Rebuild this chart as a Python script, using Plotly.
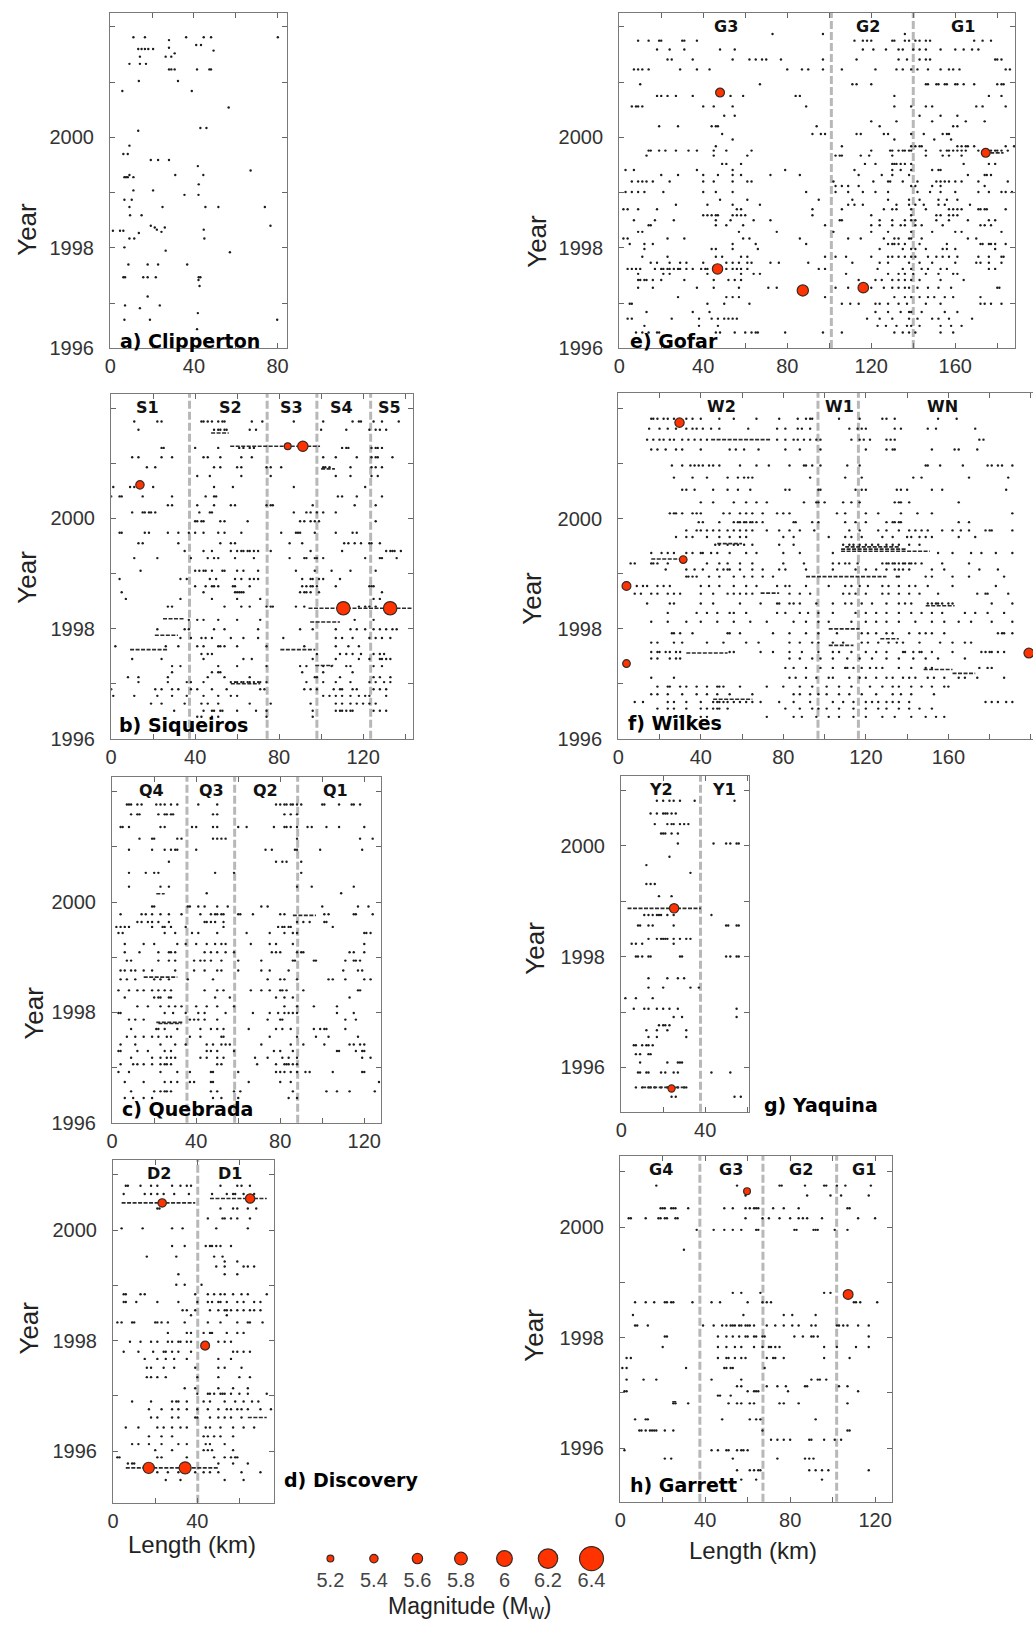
import math
import plotly.graph_objects as go

W, H = 1035, 1630

# ======================= DATA (km along segment, year) =======================
# rows: (year, [km, km, ...]) ; swarms: (year, km_start, km_end) ; events: (km, year, Mw)

CLIP_ROWS = [
    (2001.81, [11.1, 16.6, 36.3, 44.7, 48.2, 80.1]), (2001.76, [28.1]), (2001.67, [41.1, 43.4]),
    (2001.62, [28.1]), (2001.60, [13.4, 15.0, 16.6, 18.2, 20.5]), (2001.57, [49.4]), (2001.52, [30.8]),
    (2001.46, [14.2, 26.5, 29.2]), (2001.33, [9.2, 14.2, 17.1]), (2001.23, [28.1, 29.2, 30.8, 41.5, 47.4, 48.2]),
    (2001.02, [13.7, 32.4]), (2000.84, [5.8, 39.0]), (2000.54, [56.6]), (2000.17, [43.1, 46.0]),
    (2000.12, [13.4]), (1999.85, [9.2]), (1999.70, [6.3, 8.4]), (1999.59, [19.4, 22.9, 28.1]),
    (1999.48, [41.9]), (1999.40, [67.1]), (1999.32, [9.2, 31.1, 44.5]), (1999.28, [6.8, 7.6, 8.4, 11.1]),
    (1999.15, [42.3]), (1999.04, [11.1, 20.5]), (1998.96, [35.5, 42.2]), (1998.87, [6.8, 10.3]),
    (1998.74, [9.2, 25.0, 45.5, 51.7, 73.9]), (1998.59, [9.5, 15.0]), (1998.40, [19.4, 76.6]),
    (1998.37, [21.3, 26.1]), (1998.33, [22.3, 44.7]), (1998.31, [1.3, 4.7, 6.3]), (1998.29, [24.5]),
    (1998.27, [13.7]), (1998.17, [9.2, 11.5, 45.0]), (1998.01, [6.8]), (1997.95, [26.5]), (1997.92, [57.2]),
    (1997.70, [8.7, 17.9, 22.9, 36.8]), (1997.47, [6.3, 7.1, 15.8, 17.9, 21.8, 42.3, 43.1]),
    (1997.42, [42.2]), (1997.31, [42.7]), (1997.12, [17.9]), (1996.96, [7.1, 23.7]), (1996.91, [14.2]),
    (1996.82, [41.9]), (1996.70, [6.8, 19.0, 79.8]), (1996.53, [41.5]),
]
CLIP_SWARMS = []
CLIP_EVENTS = []
CLIP_BOUNDS = []
CLIP_SEGS = []

SIQ_ROWS = [
    (2001.76, [11, 22, 24, 43, 44, 46, 48, 51, 53, 54, 67, 72, 87, 101, 115, 118, 119, 125, 129, 137]),
    (2001.61, [13, 49, 51, 52, 54, 55, 66, 69, 100, 112, 123, 126, 128, 131]),
    (2001.28, [24, 25, 40, 51, 61, 63, 66, 68, 110, 112, 113, 124, 126, 127, 129]),
    (2001.11, [10, 13, 24, 29, 44, 46, 52, 62, 67, 101, 107, 117, 124, 126, 127, 134]),
    (2000.93, [17, 21, 49, 52, 60, 62, 74, 76, 81, 101, 102, 104, 114, 124, 126, 129]),
    (2000.77, [41, 47, 62, 76, 107, 114, 124, 127]),
    (2000.57, [1, 9, 11, 20, 49, 58, 87, 121]),
    (2000.40, [0, 4, 5, 15, 29, 45, 49, 50, 108, 110, 117, 129]),
    (2000.24, [27, 29, 41, 49, 57, 59, 74, 76, 77, 96, 116, 126]),
    (2000.11, [10, 15, 16, 18, 19, 21, 42, 47, 48, 87, 93, 95, 98, 101, 107]),
    (1999.95, [40, 41, 43, 44, 52, 54, 65, 90, 92, 95, 97, 99, 126]),
    (1999.74, [4, 5, 16, 18, 27, 32, 37, 40, 44, 51, 54, 62, 81, 88, 89, 90, 97, 107, 115, 117]),
    (1999.55, [13, 15, 32, 52, 57, 59, 85, 91, 111, 113, 116, 119, 123, 124, 128]),
    (1999.41, [35, 44, 48, 57, 60, 62, 63, 65, 66, 68, 70, 76, 95, 110, 131, 133, 134, 135, 138]),
    (1999.28, [11, 22, 38, 46, 49, 51, 59, 68, 85, 92, 93, 97, 98, 101, 121, 128, 129, 136]),
    (1999.05, [14, 40, 42, 44, 45, 48, 53, 54, 60, 63, 70, 88, 97, 105, 114, 126]),
    (1998.90, [4, 33, 36, 47, 50, 59, 62, 66, 68, 70, 91, 95, 96, 99, 101, 109]),
    (1998.77, [40, 45, 48, 49, 51, 58, 59, 66, 91, 93, 95, 96, 98, 107, 123, 124, 125]),
    (1998.66, [5, 44, 59, 60, 61, 62, 63, 90, 92, 93, 95, 99, 129]),
    (1998.54, [7, 33, 48, 60, 71, 125, 128]),
    (1998.40, [27, 29, 54, 62, 66, 74, 76, 77, 88, 92, 113, 118, 121, 123, 126]),
    (1998.16, [37, 41, 44, 51, 60, 71, 116, 125]),
    (1997.99, [22, 35, 37, 49, 54, 70, 90, 96, 107, 114, 117, 121, 125, 128, 131, 134, 136]),
    (1997.83, [33, 38, 43, 45, 48, 57, 63, 70, 82, 107, 110, 115, 123, 126, 129, 133]),
    (1997.68, [2, 26, 32, 41, 44, 51, 52, 54, 60, 74, 92, 107, 113, 118]),
    (1997.54, [43, 46, 48, 98, 109, 112, 115, 119, 125, 128, 130]),
    (1997.45, [10, 24, 44, 63, 67, 96, 107, 118, 123, 128, 129, 131, 133]),
    (1997.32, [29, 33, 51, 60, 74, 90, 93, 101, 105, 112, 114, 125, 129]),
    (1997.21, [29, 48, 51, 52, 91, 101, 115]),
    (1997.12, [8, 13, 27, 46, 54, 66, 97, 98, 109, 125, 128, 133]),
    (1997.03, [13, 27, 36, 38, 44, 57, 59, 60, 62, 63, 65, 66, 68, 70, 71, 74, 93, 101, 107, 114, 123, 126, 130, 133]),
    (1996.90, [0, 21, 24, 29, 32, 38, 41, 48, 55, 71, 73, 92, 95, 98, 106, 109, 110, 115, 117, 125, 128, 131]),
    (1996.78, [1, 11, 22, 29, 36, 44, 51, 57, 60, 101, 104, 107, 110, 114, 118, 121, 123, 131]),
    (1996.64, [19, 24, 35, 43, 46, 51, 66, 76, 95, 107, 110, 114, 117, 120, 123, 126]),
    (1996.51, [30, 44, 48, 49, 52, 53, 60, 69, 74, 96, 107, 109, 110, 112, 114, 115, 125, 128, 131]),
    (1996.40, [41, 43, 48, 51, 74, 96]),
]
SIQ_SWARMS = [
    (2001.31, 56.7, 99.5), (1998.37, 94.0, 143.6), (1998.18, 24.7, 35.0), (1997.88, 20.8, 31.8),
    (1997.62, 9.0, 27.0), (1997.62, 80.6, 97.2), (1997.33, 97.2, 105.8), (1998.12, 94.8, 109.0),
    (1997.00, 57.0, 71.0), (2001.55, 47.6, 56.0), (2000.90, 100.0, 106.6),
]
SIQ_EVENTS = [(13.7, 2000.61, 5.4), (84.1, 2001.31, 5.2), (91.3, 2001.31, 5.6),
              (110.6, 1998.37, 5.85), (132.9, 1998.37, 5.85)]
SIQ_BOUNDS = [37.3, 74.3, 98.0, 123.6]
SIQ_SEGS = [("S1", 17.3), ("S2", 56.7), ("S3", 85.7), ("S4", 109.8), ("S5", 132.6)]

QUE_ROWS = [
    (2001.77, [7, 8, 9, 12, 14, 21, 23, 25, 28, 31, 41, 50, 78, 80, 82, 83, 85, 86, 88, 90, 100, 101, 108, 114, 115, 118]),
    (2001.59, [9, 12, 13, 22, 25, 26, 28, 29, 48, 50, 82, 85, 88]),
    (2001.36, [4, 5, 8, 23, 25, 38, 40, 48, 50, 60, 64, 77, 82, 83, 85, 88, 93, 95, 102, 108, 120]),
    (2001.15, [13, 19, 20, 31, 33, 48, 50, 52, 54, 88, 118, 124]),
    (2000.95, [8, 19, 25, 28, 30, 31, 40, 73, 76, 87, 88, 99, 119]),
    (2000.73, [27, 78, 81, 83, 90]),
    (2000.53, [8, 16, 20, 22, 49, 58, 90]),
    (2000.28, [8, 23, 27, 88, 95, 115]),
    (2000.16, [45, 109]),
    (1999.92, [19, 20, 36, 37, 41, 44, 50, 55, 71, 74, 100, 117, 122]),
    (1999.78, [4, 14, 16, 19, 23, 27, 33, 42, 47, 49, 50, 52, 53, 60, 61, 67, 80, 82, 101, 103, 115, 116, 124]),
    (1999.64, [12, 14, 17, 19, 22, 27, 44, 45, 47, 49, 53, 88, 91, 94, 101, 102]),
    (1999.55, [2, 4, 6, 8, 19, 24, 25, 28, 35, 53, 79, 81, 82, 84, 85, 105]),
    (1999.44, [3, 5, 25, 30, 38, 41, 50, 64, 75, 82, 86, 88, 120, 121, 123]),
    (1999.24, [6, 15, 20, 31, 35, 40, 45, 49, 52, 54, 66, 75, 78, 86, 120]),
    (1999.09, [6, 13, 22, 27, 28, 30, 44, 47, 50, 54, 58, 76, 78, 80, 88, 90, 91, 113, 115, 120]),
    (1998.94, [7, 9, 22, 27, 30, 39, 42, 44, 47, 52, 60, 71, 86, 87, 96, 97, 111, 115, 116, 118]),
    (1998.76, [4, 6, 9, 11, 15, 19, 30, 39, 44, 50, 52, 60, 71, 75, 84, 110, 117, 119]),
    (1998.60, [4, 7, 11, 20, 23, 27, 36, 48, 74, 80, 82, 88, 103, 105, 111, 120, 123]),
    (1998.40, [3, 8, 12, 15, 19, 22, 25, 28, 44, 50, 53, 66, 71, 75, 80, 81, 83, 91, 117, 118]),
    (1998.27, [6, 20, 22, 23, 27, 28, 49, 56, 78, 82, 86, 113]),
    (1998.11, [12, 17, 23, 27, 30, 33, 40, 45, 50, 58, 82, 88, 96, 107]),
    (1997.99, [3, 4, 25, 29, 35, 41, 44, 54, 67, 75, 79, 82, 84, 86, 88, 107, 115]),
    (1997.87, [8, 11, 15, 37, 39, 41, 44, 50, 74, 80, 81, 111, 116]),
    (1997.70, [9, 21, 22, 25, 31, 42, 47, 50, 53, 65, 78, 81, 85, 96, 99, 101, 102, 111]),
    (1997.56, [7, 11, 15, 19, 22, 26, 28, 37, 42, 52, 53, 75, 88, 97, 103, 117]),
    (1997.42, [4, 11, 23, 30, 35, 45, 48, 52, 54, 56, 71, 85, 91, 101, 113, 115, 118, 120]),
    (1997.30, [3, 4, 12, 17, 25, 28, 45, 47, 50, 58, 77, 80, 86, 107, 108, 116, 119, 120]),
    (1997.18, [9, 19, 23, 26, 28, 30, 42, 45, 50, 53, 68, 74, 81, 84, 88, 119, 123]),
    (1997.06, [4, 10, 12, 15, 19, 23, 25, 26, 28, 50, 52, 69, 78, 82, 83, 84, 86, 88]),
    (1996.92, [3, 8, 23, 31, 37, 47, 48, 60, 78, 80, 82, 85, 88, 92, 94, 105, 119, 120]),
    (1996.74, [6, 15, 25, 28, 31, 37, 39, 47, 48, 65, 80, 85, 127]),
    (1996.57, [9, 20, 23, 25, 26, 28, 47, 50, 58, 61, 86, 102, 107, 113, 125]),
    (1996.45, [6, 10, 15, 19, 48, 52, 60, 84, 88]),
]
QUE_SWARMS = [(1998.64, 15, 31), (1997.82, 21, 34), (1997.80, 22, 33), (2000.15, 21, 25), (1999.76, 86, 97)]
QUE_EVENTS = []
QUE_BOUNDS = [35.6, 58.3, 88.3]
QUE_SEGS = [("Q4", 18.6), ("Q3", 47.3), ("Q2", 73.0), ("Q1", 106.4)]

DIS_ROWS = [
    (2000.80, [6, 7, 13, 18, 21, 28, 32, 35, 37, 51, 59, 61, 65]),
    (2000.65, [5, 15, 18, 21, 24, 29, 36, 47, 54, 57, 58, 62, 67]),
    (2000.39, [21, 22, 51, 57, 59, 64, 68]),
    (2000.21, [45, 52, 53, 56, 59, 65]),
    (2000.03, [4, 14, 28, 33, 49, 64]),
    (1999.71, [28, 34, 44, 46, 47, 49, 51, 56]),
    (1999.52, [16, 30, 48, 52]),
    (1999.43, [53, 59]),
    (1999.34, [49, 53, 62, 64, 67]),
    (1999.20, [31, 53, 59]),
    (1999.01, [30, 34, 42]),
    (1998.84, [5, 6, 13, 15, 39, 45, 48, 51, 53, 57, 61, 64, 73]),
    (1998.70, [5, 6, 11, 21, 31, 40, 45, 47, 50, 51, 54, 59, 62, 67, 70]),
    (1998.55, [33, 35, 39, 46, 50, 53, 54, 56, 59, 62, 65, 67, 70]),
    (1998.46, [37, 54]),
    (1998.33, [2, 4, 9, 10, 20, 21, 23, 26, 34, 45, 51, 59, 64, 65, 71]),
    (1998.14, [26, 35, 37, 43, 46, 47, 54, 59, 62]),
    (1997.98, [8, 13, 18, 21, 26, 28, 31, 32, 35, 37, 50, 53, 56]),
    (1997.80, [5, 12, 19, 24, 25, 28, 31, 37, 57, 59, 62, 65]),
    (1997.67, [15, 21, 25, 29, 35, 50, 56]),
    (1997.51, [16, 18, 24, 29, 39, 50, 53, 61]),
    (1997.34, [16, 18, 21, 25, 40, 50, 60, 65]),
    (1997.14, [34, 39, 50, 57, 64]),
    (1997.04, [40, 45, 46, 48, 51, 52, 53, 56, 60, 64, 73]),
    (1996.90, [9, 18, 28, 30, 31, 35, 43, 46, 53, 58, 62, 66, 69]),
    (1996.76, [17, 23, 28, 31, 35, 40, 45, 50, 54, 56, 59, 61, 64, 70, 75]),
    (1996.61, [18, 21, 28, 31, 39, 40, 46, 50, 53, 56, 61]),
    (1996.43, [6, 12, 21, 24, 28, 32, 35, 44, 46, 51, 57, 62, 67]),
    (1996.27, [17, 23, 28, 43, 45, 48, 51, 57]),
    (1996.13, [9, 12, 17, 23, 31, 35, 44, 46, 53]),
    (1996.02, [20, 28, 43, 45, 47, 57]),
    (1995.89, [2, 3, 21, 23, 35, 48, 53, 56, 58, 59]),
    (1995.78, [7, 9, 10, 50, 57, 64]),
    (1995.62, [21, 26, 31, 39, 43, 46, 50, 61, 70]),
    (1995.48, [25, 32, 53, 62]),
]
DIS_SWARMS = [(2000.49, 4, 39), (2000.57, 46, 73), (1995.70, 6, 50), (1996.61, 64, 73)]
DIS_EVENTS = [(23.3, 2000.49, 5.4), (65.1, 2000.57, 5.5), (43.7, 1997.91, 5.45),
              (16.9, 1995.70, 5.68), (34.2, 1995.70, 5.75)]
DIS_BOUNDS = [40.2]
DIS_SEGS = [("D2", 22.0), ("D1", 55.6)]

GOF_ROWS = [
    (2001.87, [73, 97, 136]),
    (2001.75, [9, 14, 19, 20, 30, 31, 37, 112, 116, 118, 120, 130, 131, 136, 138, 141, 143, 146, 148, 169, 173, 177]),
    (2001.59, [18, 24, 31, 48, 55, 116, 121, 127, 133, 135, 140, 143, 146, 153, 160, 164, 168, 171]),
    (2001.41, [23, 25, 35, 54, 62, 65, 68, 70, 77, 97, 113, 133, 137, 143, 146, 148, 179, 180, 182]),
    (2001.23, [7, 9, 11, 14, 29, 37, 43, 80, 87, 90, 97, 106, 122, 132, 135, 139, 142, 147, 153, 157, 159, 162, 184, 186]),
    (2000.96, [10, 67, 111, 113, 120, 146, 147, 151, 152, 155, 156, 160, 161, 164, 169, 180, 182, 183]),
    (2000.75, [18, 20, 23, 27, 35, 53, 59, 84, 86, 131, 176, 182]),
    (2000.56, [6, 8, 9, 11, 40, 45, 54, 89, 131, 139, 146, 149, 170, 173, 184]),
    (2000.39, [50, 55, 143, 153, 161]),
    (2000.29, [120, 132, 149, 165, 174]),
    (2000.20, [19, 28, 44, 46, 47, 94, 124, 159, 161]),
    (2000.06, [49, 92, 96, 98, 113, 115, 126, 128, 139, 145, 154, 156, 157]),
    (1999.96, [54, 131, 150, 158]),
    (1999.84, [46, 106, 139, 141, 143, 144, 161, 163, 165, 166, 169, 184, 188]),
    (1999.76, [14, 15, 19, 22, 27, 33, 37, 45, 51, 63, 120, 129, 130, 133, 135, 136, 138, 139, 146, 153, 156,
               157, 159, 161, 163, 165, 171, 177, 179, 180, 182, 185]),
    (1999.67, [13, 45, 61, 103, 105, 106, 115, 119, 130, 146, 154, 157, 163]),
    (1999.52, [49, 51, 58, 117, 122, 130, 131, 132, 134, 136, 139, 164, 176, 179]),
    (1999.41, [3, 7, 37, 54, 79, 112, 130, 134, 139, 149, 152, 153]),
    (1999.32, [20, 28, 40, 47, 54, 58, 72, 86, 114, 125, 130, 138, 166, 174, 175, 177]),
    (1999.20, [6, 9, 11, 13, 16, 24, 40, 45, 54, 61, 63, 102, 121, 128, 129, 135, 142, 151, 153, 155, 157, 160,
               163, 171, 185]),
    (1999.12, [103, 106, 109, 114, 139, 141, 149, 153, 174]),
    (1999.01, [3, 6, 9, 12, 21, 40, 46, 54, 89, 103, 109, 116, 122, 128, 142, 148, 153, 160, 171, 176, 182, 184, 187]),
    (1998.87, [48, 61, 95, 111, 128, 138, 143, 152, 156, 161]),
    (1998.78, [27, 42, 54, 67, 109, 112, 116, 132, 138, 141, 145, 152, 155, 167]),
    (1998.70, [2, 4, 9, 18, 56, 58, 92, 106, 126, 130, 132, 139, 146, 157, 159, 161, 163, 171, 172, 174, 175, 184]),
    (1998.59, [40, 42, 44, 46, 47, 54, 56, 58, 60, 92, 120, 139, 151, 153, 157, 159, 161]),
    (1998.50, [7, 17, 26, 46, 53, 64, 72, 105, 106, 124, 130, 136, 139, 141, 151, 157, 166, 176, 179]),
    (1998.41, [14, 15, 46, 51, 59, 98, 120, 124, 130, 134, 136, 141, 144, 154, 172, 174, 177]),
    (1998.29, [9, 11, 57, 75, 102, 120, 128, 139, 149, 160, 163, 182]),
    (1998.17, [2, 4, 23, 31, 59, 62, 86, 109, 115, 126, 131, 133, 138, 139, 144, 166, 170]),
    (1998.07, [5, 12, 16, 54, 65, 89, 128, 130, 131, 133, 136, 143, 156, 172, 173, 176, 177, 179, 184]),
    (1997.98, [12, 44, 46, 54, 66, 124, 135, 139, 141, 146, 154, 156, 160, 179]),
    (1997.84, [11, 23, 46, 49, 58, 61, 98, 103, 108, 120, 128, 130, 133, 136, 139, 141, 147, 151, 154, 157, 161,
               171, 176, 182, 183]),
    (1997.73, [15, 18, 24, 29, 32, 40, 51, 54, 57, 61, 63, 72, 76, 90, 111, 124, 128, 138, 143, 149, 160, 170,
               172, 176, 182]),
    (1997.62, [4, 6, 8, 10, 17, 20, 21, 23, 24, 26, 28, 29, 32, 35, 39, 41, 42, 51, 54, 56, 58, 61, 95, 98, 123,
               135, 139, 144, 147, 153, 156, 176, 179]),
    (1997.53, [9, 21, 24, 42, 58, 64, 67, 108, 128, 133, 136, 140, 146, 152, 159, 161]),
    (1997.42, [9, 10, 12, 13, 16, 20, 31, 45, 52, 55, 58, 114, 122, 125, 130, 133, 136, 139, 143, 153, 164]),
    (1997.28, [9, 16, 37, 45, 57, 71, 75, 103, 109, 120, 126, 130, 133, 136, 138, 142, 147, 152, 158, 180, 181]),
    (1997.11, [28, 51, 54, 57, 98, 131, 136, 139, 143, 147, 150, 155, 159, 172]),
    (1996.99, [5, 6, 42, 50, 62, 106, 110, 114, 122, 124, 128, 133, 137, 146, 153, 172, 174, 177, 182]),
    (1996.84, [13, 35, 43, 122, 128, 134, 138, 139, 144, 155, 161]),
    (1996.72, [4, 6, 25, 38, 44, 47, 50, 52, 54, 56, 118, 124, 130, 138, 142, 149, 152, 157, 168]),
    (1996.59, [12, 38, 47, 123, 127, 132, 137, 139, 143, 153, 158, 163]),
    (1996.47, [8, 11, 14, 18, 19, 46, 48, 55, 60, 63, 65, 66, 79, 97, 106, 131, 135, 138, 141, 153, 159]),
]
GOF_SWARMS = [(1999.72, 174, 183)]
GOF_EVENTS = [(48.0, 2000.81, 5.45), (46.8, 1997.62, 5.6), (87.4, 1997.23, 5.68),
              (116.2, 1997.28, 5.62), (174.5, 1999.72, 5.45)]
GOF_BOUNDS = [101.0, 140.0]
GOF_SEGS = [("G3", 51.0), ("G2", 118.6), ("G1", 163.5)]

WIL_ROWS = [
    (2001.82, [16, 17, 19, 22, 24, 27, 33, 36, 40, 49, 56, 67, 78, 87, 91, 93, 94, 107, 117, 128, 130, 134, 155, 164]),
    (2001.64, [15, 20, 24, 28, 33, 36, 38, 41, 45, 49, 63, 77, 81, 87, 89, 93, 112, 116, 118, 120, 134, 137, 150, 154, 173]),
    (2001.44, [14, 17, 20, 22, 25, 27, 31, 34, 37, 40, 43, 77, 81, 85, 87, 90, 93, 96, 98, 113, 117, 119, 122, 130,
               132, 134, 175, 177]),
    (2001.26, [16, 19, 23, 28, 31, 40, 54, 57, 61, 68, 81, 88, 98, 120, 130, 133, 134, 152, 163, 165, 174]),
    (2000.97, [26, 31, 35, 37, 39, 41, 44, 46, 49, 59, 67, 73, 83, 90, 91, 94, 98, 111, 117, 149, 150, 156, 167,
               179, 181, 184, 186, 191]),
    (2000.75, [27, 36, 43, 53, 58, 61, 63, 65, 93, 110, 118, 143, 147, 170, 189]),
    (2000.53, [31, 33, 37, 46, 53, 58, 64, 81, 83, 97, 98, 115, 118, 120, 135, 137, 140, 152, 157, 188]),
    (2000.30, [40, 46, 56, 62, 67, 72, 90, 96, 97, 100, 109, 113, 117, 134, 136, 137, 141, 165]),
    (2000.10, [25, 27, 28, 31, 36, 38, 40, 51, 54, 59, 62, 65, 70, 77, 80, 83, 106, 110, 120, 126, 137, 145, 152, 191]),
    (1999.94, [39, 41, 49, 56, 58, 59, 61, 62, 64, 65, 67, 70, 85, 86, 94, 97, 110, 115, 120, 130, 133, 134, 136,
               137, 165, 170]),
    (1999.79, [33, 38, 40, 43, 46, 49, 53, 56, 59, 62, 65, 72, 78, 83, 88, 95, 112, 117, 126, 130, 136, 141, 144,
               147, 150, 157, 162, 166, 170, 178, 180, 181, 191]),
    (1999.67, [28, 33, 36, 43, 49, 54, 59, 62, 80, 85, 102, 110, 113, 118, 128, 133, 140, 142, 146, 149, 152, 165, 173]),
    (1999.53, [47, 49, 53, 56, 58, 61, 65, 78, 85, 109, 112, 114, 117, 120, 123, 126, 130, 133, 136, 141, 146]),
    (1999.38, [16, 21, 24, 27, 33, 36, 40, 41, 45, 48, 54, 62, 67, 80, 88, 104, 155, 162, 171, 176, 183, 191]),
    (1999.19, [6, 8, 16, 17, 19, 24, 43, 49, 53, 59, 65, 80, 90, 104, 107, 110, 112, 116, 128, 130, 131, 133, 134,
               136, 138, 139, 141, 142, 144, 147, 157, 170]),
    (1999.08, [23, 33, 37, 41, 48, 51, 53, 54, 59, 65, 70, 78, 81, 91, 104, 115, 120, 125, 130, 134, 136, 138, 141,
               152, 158, 175, 184]),
    (1998.95, [33, 34, 36, 38, 44, 49, 56, 61, 65, 70, 75, 135, 136, 149, 152, 162, 170, 187]),
    (1998.78, [9, 12, 14, 19, 22, 25, 40, 44, 49, 56, 62, 67, 77, 81, 83, 91, 102, 110, 113, 117, 121, 128, 131,
               136, 141, 144, 150, 162, 183]),
    (1998.64, [8, 11, 16, 19, 24, 27, 30, 40, 46, 53, 56, 59, 62, 65, 83, 88, 93, 109, 112, 115, 120, 128, 131,
               136, 141, 146, 155, 174, 178, 179, 189]),
    (1998.46, [14, 25, 27, 40, 46, 59, 69, 77, 78, 83, 85, 88, 96, 104, 110, 113, 118, 123, 130, 136, 139, 142,
               150, 152, 154, 155, 157, 160, 162, 181, 191]),
    (1998.29, [24, 38, 43, 48, 54, 56, 62, 77, 81, 88, 92, 97, 104, 115, 120, 125, 130, 136, 142, 147, 152, 157,
               168, 173, 179, 187]),
    (1998.13, [16, 24, 33, 40, 48, 56, 64, 72, 85, 91, 97, 102, 113, 120, 125, 130, 136, 144, 152, 158, 165, 171,
               181, 191]),
    (1997.92, [26, 27, 30, 36, 53, 54, 59, 75, 83, 91, 97, 106, 118, 121, 125, 130, 133, 141, 146, 149, 152, 158,
               184, 186, 187, 191]),
    (1997.75, [16, 19, 27, 31, 43, 51, 62, 68, 83, 88, 94, 97, 104, 109, 118, 121, 126, 131, 135, 138, 146, 156,
               162, 168, 171]),
    (1997.58, [16, 19, 20, 23, 25, 28, 30, 54, 56, 69, 75, 83, 89, 97, 104, 107, 113, 120, 125, 130, 138, 139,
               143, 146, 147, 152, 162, 176, 178, 180, 181, 184, 187]),
    (1997.46, [16, 19, 25, 28, 30, 83, 88, 94, 98, 104, 111, 117, 123, 130, 136, 143, 149, 155, 168]),
    (1997.29, [81, 85, 91, 98, 104, 110, 111, 114, 118, 122, 125, 128, 136, 142, 149, 152, 175, 179, 181]),
    (1997.11, [16, 27, 83, 86, 91, 96, 102, 104, 112, 117, 120, 125, 130, 133, 138, 141, 144, 150, 153, 158, 165,
               168, 174, 187]),
    (1996.95, [19, 24, 25, 30, 33, 38, 43, 48, 49, 51, 59, 72, 80, 88, 94, 101, 107, 113, 122, 128, 133, 136, 142,
               147, 152, 158, 160]),
    (1996.81, [16, 19, 24, 31, 38, 43, 48, 54, 65, 85, 88, 93, 97, 101, 107, 112, 118, 125, 133, 137, 142, 153]),
    (1996.67, [8, 12, 24, 27, 33, 40, 46, 48, 49, 51, 53, 56, 59, 62, 65, 69, 78, 85, 93, 104, 109, 114, 120, 123,
               126, 130, 133, 136, 141, 178, 181, 184, 188, 191]),
    (1996.55, [19, 24, 27, 33, 40, 43, 46, 48, 49, 53, 81, 88, 94, 97, 101, 107, 114, 120, 126, 130, 136, 141, 146, 152]),
    (1996.40, [27, 30, 35, 40, 43, 72, 85, 89, 96, 102, 107, 114, 120, 128, 134, 142, 149, 154, 158]),
]
WIL_SWARMS = [
    (2001.44, 45, 74), (1999.41, 108, 151), (1999.45, 108, 140), (1999.49, 110, 136), (1999.27, 16, 31),
    (1998.95, 91, 130), (1998.00, 102, 117), (1997.82, 127, 136), (1997.70, 102, 114), (1997.56, 33, 53),
    (1997.26, 148, 162), (1997.19, 162, 173), (1998.65, 69, 78), (1996.72, 46, 65), (1998.42, 149, 163),
    (1999.55, 48, 60),
]
WIL_EVENTS = [(29.7, 2001.75, 5.5), (31.5, 1999.26, 5.31), (4.0, 1998.78, 5.45),
              (4.0, 1997.37, 5.31), (199.0, 1997.56, 5.55)]
WIL_BOUNDS = [96.8, 116.4]
WIL_SEGS = [("W2", 50.2), ("W1", 107.2), ("WN", 157.0)]

YAQ_ROWS = [
    (2000.81, [17, 20, 23, 25, 28, 35, 54]), (2000.58, [14, 17, 20, 21, 22, 24, 26]),
    (2000.39, [16, 22, 24, 25, 28, 30, 32]), (2000.22, [19, 20, 21, 24, 27]),
    (2000.04, [27, 44, 50, 52, 55, 56]), (1999.80, [23]), (1999.65, [12]), (1999.51, [33]),
    (1999.31, [12, 14, 16]), (1999.09, [18, 24]), (1998.75, [11, 13, 15, 17, 18, 19, 22, 25, 43]),
    (1998.56, [8, 9, 13, 15, 25, 50, 51, 55, 56]), (1998.32, [13, 17, 19, 20, 21, 22, 25, 28, 31, 33]),
    (1998.23, [5, 7, 10, 25]), (1998.00, [7, 8, 10, 13, 14, 28, 29, 50, 52, 55, 56]),
    (1997.61, [13, 22, 27, 30]), (1997.44, [13, 20, 33, 37]), (1997.25, [2, 7, 15]),
    (1997.06, [6, 11, 13, 17, 20, 23, 27, 55]), (1996.91, [25, 29, 55]), (1996.76, [18, 20, 21, 23]),
    (1996.67, [12, 17, 22, 31]), (1996.55, [13, 17, 31]), (1996.40, [6, 7, 10, 12, 13, 15]),
    (1996.24, [7, 9, 13, 14]), (1996.09, [9, 22, 27, 28, 29]),
    (1995.91, [8, 9, 12, 13, 19, 21, 25, 27, 43, 52]),
    (1995.64, [7, 10, 13, 14, 16, 19, 22, 24, 27, 30, 31]), (1995.47, [24, 26, 54, 57]),
]
YAQ_SWARMS = [(1998.87, 3, 38), (1995.64, 10, 31)]
YAQ_EVENTS = [(25.2, 1998.87, 5.5), (24.0, 1995.62, 5.25)]
YAQ_BOUNDS = [37.8]
YAQ_SEGS = [("Y2", 19.2), ("Y1", 49.0)]

GAR_ROWS = [
    (2000.75, [17, 55, 75, 76, 87, 96, 97, 102, 106, 118]),
    (2000.57, [59, 88, 99, 104, 117]),
    (2000.34, [19, 20, 21, 24, 25, 26, 32, 49, 53, 59, 61, 63, 64, 65, 72, 77, 84, 107, 108]),
    (2000.16, [4, 5, 12, 18, 19, 21, 22, 26, 27, 59, 67, 70, 75, 80, 84, 86, 88, 95, 112, 120]),
    (1999.95, [36, 44, 49, 53, 57, 64, 65, 82, 83, 91, 92, 93, 101, 107]),
    (1999.59, [30]),
    (1998.81, [53, 57, 66, 96, 99]),
    (1998.64, [7, 12, 16, 21, 22, 24, 25, 34, 43, 47, 60, 67, 69, 71, 110, 111, 113, 121]),
    (1998.41, [6, 58, 77, 81, 92]),
    (1998.22, [7, 8, 13, 39, 44, 48, 50, 52, 53, 54, 56, 57, 59, 60, 61, 63, 69, 73, 77, 81, 84, 90, 92, 102, 103,
               105, 107, 112, 117]),
    (1998.02, [21, 22, 46, 50, 53, 56, 59, 60, 63, 64, 67, 68, 82, 86, 90, 91, 93, 117]),
    (1997.83, [20, 46, 50, 54, 57, 63, 67, 70, 71, 73, 75, 96, 102, 111, 117]),
    (1997.63, [3, 5, 46, 50, 51, 54, 57, 59, 69, 72, 73, 77, 96, 108]),
    (1997.45, [1, 3, 31, 49, 50, 52, 53, 68]),
    (1997.24, [3, 11, 17, 43, 57, 90, 93, 94, 97]),
    (1997.12, [55, 57, 69, 74, 78, 87, 88, 103, 107]),
    (1997.03, [2, 3, 60, 63, 64, 65, 79, 112]),
    (1996.95, [46, 47, 52]),
    (1996.81, [25, 26, 32, 51, 55, 57, 61, 63, 75, 77, 84, 107]),
    (1996.52, [7, 12, 13, 48, 61, 64, 66, 92]),
    (1996.32, [9, 10, 12, 14, 15, 16, 17, 21, 25, 67, 107, 108]),
    (1996.15, [71, 74, 77, 80, 89, 90, 96, 101, 104]),
    (1995.96, [2, 43, 46, 50, 51, 55, 57, 58, 60]),
    (1995.81, [21, 24, 53, 74, 87, 89, 91]),
    (1995.60, [55, 61, 63, 65, 66, 89, 92, 95, 98, 117]),
    (1995.43, [57, 64, 95]),
]
GAR_SWARMS = [(1996.84, 24.5, 27.0)]
GAR_EVENTS = [(59.7, 2000.65, 5.2), (107.3, 1998.78, 5.55)]
GAR_BOUNDS = [37.5, 67.2, 101.9]
GAR_SEGS = [("G4", 19.0), ("G3", 52.0), ("G2", 85.0), ("G1", 115.0)]

MAG_LEGEND = [5.2, 5.4, 5.6, 5.8, 6.0, 6.2, 6.4]
MAG_LABELS = ["5.2", "5.4", "5.6", "5.8", "6", "6.2", "6.4"]

# ======================= LAYOUT (pixel frames) =======================
PANELS = [
    dict(rows=CLIP_ROWS, sw=CLIP_SWARMS, ev=CLIP_EVENTS, bd=CLIP_BOUNDS, sg=CLIP_SEGS,
         frame=(105, 283, 13, 348), xr=(0, 84.4), yr=(1996.19, 2002.25), fake96=True,
         label=("a) Clipperton", 113, 341), year=(21, 229), right=True),
    dict(rows=SIQ_ROWS, sw=SIQ_SWARMS, ev=SIQ_EVENTS, bd=SIQ_BOUNDS, sg=SIQ_SEGS,
         frame=(106, 410, 394, 739), xr=(0, 143.7), yr=(1996.0, 2002.26), fake96=False,
         label=("b) Siqueiros", 112, 725), year=(21, 577), right=True),
    dict(rows=QUE_ROWS, sw=QUE_SWARMS, ev=QUE_EVENTS, bd=QUE_BOUNDS, sg=QUE_SEGS,
         frame=(107, 378, 777, 1123), xr=(0, 128.0), yr=(1996.0, 2002.27), fake96=False,
         label=("c) Quebrada", 115, 1109), year=(28, 1013), right=True),
    dict(rows=DIS_ROWS, sw=DIS_SWARMS, ev=DIS_EVENTS, bd=DIS_BOUNDS, sg=DIS_SEGS,
         frame=(108, 270, 1160, 1503), xr=(0, 76.4), yr=(1995.07, 2001.27), fake96=False,
         label=("d) Discovery", 278, 1480), year=(23, 1328), right=True),
    dict(rows=GOF_ROWS, sw=GOF_SWARMS, ev=GOF_EVENTS, bd=GOF_BOUNDS, sg=GOF_SEGS,
         frame=(618, 1017, 13, 348), xr=(0, 188.5), yr=(1996.19, 2002.25), fake96=True,
         label=("e) Gofar", 627, 341), year=(535, 241), right=True),
    dict(rows=WIL_ROWS, sw=WIL_SWARMS, ev=WIL_EVENTS, bd=WIL_BOUNDS, sg=WIL_SEGS,
         frame=(617, 1035, 393, 739), xr=(0, 201.0), yr=(1996.0, 2002.29), fake96=False,
         label=("f) Wilkes", 625, 723), year=(530, 598), right=False),
    dict(rows=YAQ_ROWS, sw=YAQ_SWARMS, ev=YAQ_EVENTS, bd=YAQ_BOUNDS, sg=YAQ_SEGS,
         frame=(620, 749, 776, 1112), xr=(0, 61.0), yr=(1995.20, 2001.26), fake96=False,
         label=("g) Yaquina", 762, 1105), year=(533, 948), right=True),
    dict(rows=GAR_ROWS, sw=GAR_SWARMS, ev=GAR_EVENTS, bd=GAR_BOUNDS, sg=GAR_SEGS,
         frame=(619, 893, 1156, 1502), xr=(0, 128.0), yr=(1995.03, 2001.29), fake96=False,
         label=("h) Garrett", 627, 1485), year=(532, 1335), right=True),
]

DOT_COLOR = "#1c1c1c"
RED = "#ff3300"
RED_EDGE = "#3a2a25"
TICK_FONT = dict(family="Liberation Sans, Arial, sans-serif", size=20, color="#333333")
BOLD = "DejaVu Sans, Arial Black, sans-serif"
VSCALE = 1.0066   # compensates the slight vertical squeeze seen in the rendered page


def msize(m):
    return 6.8 * math.exp(1.05 * (m - 5.2))


def px(xp):
    return xp / W


def py(yp):
    return 1 - (yp * VSCALE) / H


fig = go.Figure()
layout = dict(width=W, height=H, margin=dict(l=0, r=0, t=0, b=0), autosize=False,
              paper_bgcolor="white", plot_bgcolor="white", showlegend=False)
annotations = []
shapes = []

for i, p in enumerate(PANELS, start=1):
    xa = "x" if i == 1 else f"x{i}"
    ya = "y" if i == 1 else f"y{i}"
    xkey = "xaxis" if i == 1 else f"xaxis{i}"
    ykey = "yaxis" if i == 1 else f"yaxis{i}"
    l, r, t, b = p["frame"]

    # background seismicity
    xs, ys = [], []
    for yr, kms in p["rows"]:
        for k in kms:
            xs.append(k)
            ys.append(yr)
    fig.add_trace(go.Scatter(x=xs, y=ys, xaxis=xa, yaxis=ya, mode="markers",
                             marker=dict(size=2.4, color=DOT_COLOR, opacity=1), hoverinfo="skip"))
    # swarms (dense rows of events)
    if p["sw"]:
        sx, sy = [], []
        for yr, k0, k1 in p["sw"]:
            sx += [k0, k1, None]
            sy += [yr, yr, None]
        fig.add_trace(go.Scatter(x=sx, y=sy, xaxis=xa, yaxis=ya, mode="lines",
                                 line=dict(color="#2a2a2a", width=1.6, dash="4px,1.5px"),
                                 hoverinfo="skip"))
    # large events
    if p["ev"]:
        fig.add_trace(go.Scatter(x=[e[0] for e in p["ev"]], y=[e[1] for e in p["ev"]],
                                 xaxis=xa, yaxis=ya, mode="markers",
                                 marker=dict(size=[msize(e[2]) for e in p["ev"]], color=RED, opacity=1,
                                             line=dict(color=RED_EDGE, width=1.2))))

    x0, x1 = p["xr"]
    y0, y1 = p["yr"]
    xt = list(range(0, int(x1) + 1, 20))
    xtt = [str(v) if (v % 40 == 0 and v <= x1 - 2) else "" for v in xt]
    yt = list(range(math.ceil(y0), int(y1) + 1))
    ytt = [str(v) if v in (1996, 1998, 2000) else "" for v in yt]
    if p["fake96"]:
        yt = [y0] + yt
        ytt = ["1996"] + ytt

    layout[xkey] = dict(domain=[px(l), px(r)], range=[x0, x1], anchor=ya,
                        showgrid=False, zeroline=False, showline=True, linecolor="#7a7a7a",
                        linewidth=1.2, mirror="ticks", ticks="inside", ticklen=5,
                        tickcolor="#666", tickwidth=1, tickmode="array", tickvals=xt,
                        ticktext=xtt, tickfont=TICK_FONT, fixedrange=True)
    layout[ykey] = dict(domain=[py(b), py(t)], range=[y0, y1], anchor=xa,
                        showgrid=False, zeroline=False, showline=True, linecolor="#7a7a7a",
                        linewidth=1.2, mirror=("ticks" if p["right"] else False),
                        ticks="inside", ticklen=5, tickcolor="#666", tickwidth=1,
                        tickmode="array", tickvals=yt, ticktext=ytt, tickfont=TICK_FONT,
                        ticklabelstandoff=11, fixedrange=True)

    # segment boundaries
    for bx in p["bd"]:
        shapes.append(dict(type="line", xref=xa, yref=f"{ya} domain", x0=bx, x1=bx, y0=0, y1=1,
                           line=dict(color="#b8b8b8", width=3, dash="8px,3px"), layer="below"))
    # segment names
    for name, kx in p["sg"]:
        annotations.append(dict(x=kx, y=py(t + 13.5), xref=xa, yref="paper", text=f"<b>{name}</b>",
                                showarrow=False, xanchor="center", yanchor="middle",
                                font=dict(family=BOLD, size=16, color="#111")))
    # panel label
    txt, lx, ly = p["label"]
    annotations.append(dict(x=px(lx), y=py(ly), xref="paper", yref="paper", text=f"<b>{txt}</b>",
                            showarrow=False, xanchor="left", yanchor="middle",
                            font=dict(family=BOLD, size=19, color="#000")))
    # Year title
    yx, yy = p["year"]
    annotations.append(dict(x=px(yx), y=py(yy), xref="paper", yref="paper", text="Year",
                            textangle=-90, showarrow=False, xanchor="center", yanchor="middle",
                            font=dict(family="Liberation Sans, Arial, sans-serif", size=26,
                                      color="#222")))

# Length titles
for lx, ly in [(187, 1545), (753, 1551)]:
    annotations.append(dict(x=px(lx), y=py(ly), xref="paper", yref="paper", text="Length (km)",
                            showarrow=False, xanchor="center", yanchor="middle",
                            font=dict(family="Liberation Sans, Arial, sans-serif", size=24, color="#222")))

# Magnitude legend (own hidden axes)
fig.add_trace(go.Scatter(x=MAG_LEGEND, y=[0.37] * len(MAG_LEGEND), xaxis="x9", yaxis="y9",
                         mode="markers",
                         marker=dict(size=[msize(m) for m in MAG_LEGEND], color=RED, opacity=1,
                                     line=dict(color=RED_EDGE, width=1.2))))
fig.add_trace(go.Scatter(x=MAG_LEGEND, y=[-0.4] * len(MAG_LEGEND), xaxis="x9", yaxis="y9",
                         mode="text", text=MAG_LABELS,
                         textfont=dict(family="Liberation Sans, Arial, sans-serif", size=20,
                                       color="#444")))
layout["xaxis9"] = dict(domain=[px(305), px(612)], range=[5.1, 6.5], visible=False,
                        anchor="y9", fixedrange=True)
layout["yaxis9"] = dict(domain=[py(1600), py(1540)], range=[-1, 1], visible=False,
                        anchor="x9", fixedrange=True)
annotations.append(dict(x=px(468), y=py(1608), xref="paper", yref="paper",
                        text="Magnitude (M<sub>W</sub>)", showarrow=False,
                        xanchor="center", yanchor="middle",
                        font=dict(family="Liberation Sans, Arial, sans-serif", size=23, color="#222")))

layout["annotations"] = annotations
layout["shapes"] = shapes
fig.update_layout(**layout)
fig.write_html("out.html", config={"displayModeBar": False, "staticPlot": True})

# pin the page to exactly the figure size (no default body margin, no extra height)
css = ("<style>html,body{margin:0;padding:0;overflow:hidden;width:1035px;height:1630px;}"
       "body>div{position:absolute;left:0;top:0;width:1035px;height:1630px;overflow:hidden;}</style>")
with open("out.html", "r", encoding="utf-8") as fh:
    html = fh.read()
html = html.replace("<head>", "<head>" + css, 1)
with open("out.html", "w", encoding="utf-8") as fh:
    fh.write(html)
